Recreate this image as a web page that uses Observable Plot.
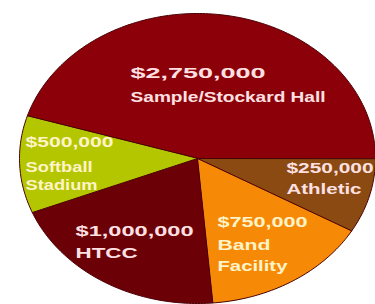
<!DOCTYPE html>
<html><head><meta charset="utf-8">
<script src="https://cdn.jsdelivr.net/npm/d3@7"></script>
<script src="https://cdn.jsdelivr.net/npm/@observablehq/plot@0.6"></script>
<style>
html,body{margin:0;padding:0;background:#fff;}
#chart svg{display:block;}
</style></head><body><div id="chart"></div>
<script>
// Slices in clockwise order, starting at the upper-left edge of the big slice
const projects = ["Sample/Stockard Hall", "Athletic", "Band Facility", "HTCC", "Softball Stadium"];
const amounts = ["$2,750,000", "$250,000", "$750,000", "$1,000,000", "$500,000"];
const shares = [45.3, 8.3, 15.3, 20.3, 10.8]; // share of the circle, %
const labelLines = [
  ["$2,750,000", "Sample/Stockard Hall"],
  ["$250,000", "Athletic"],
  ["$750,000", "Band", "Facility"],
  ["$1,000,000", "HTCC"],
  ["$500,000", "Softball", "Stadium"]
];
const colors = ["#8c0009", "#8a4a12", "#f68a06", "#6c0007", "#b4c600"];

const table = projects.map((p, i) => ({project: p, amount: amounts[i], share: shares[i]}));
const start = 287 * Math.PI / 180;
const arcs = d3.pie().sort(null).value(d => d.share).startAngle(start).endAngle(start + 2 * Math.PI)(table);

const pts = [];
arcs.forEach(a => {
  pts.push({project: a.data.project, x: 0, y: 0});
  const n = Math.max(4, Math.ceil((a.endAngle - a.startAngle) / (Math.PI / 180)));
  for (let k = 0; k <= n; k++) {
    const t = a.startAngle + (a.endAngle - a.startAngle) * k / n;
    pts.push({project: a.data.project, x: Math.sin(t), y: Math.cos(t)});
  }
});

// label layout (unit-circle data units) and rendered widths in px
const labelX = [-0.376, 0.50, 0.112, -0.685, -0.966];
const labelY = [[0.586, 0.421], [-0.069, -0.214], [-0.441, -0.600, -0.745], [-0.503, -0.655], [0.110, -0.062, -0.186]];
const labelW = [[135, 195], [87, 75], [90, 53, 70], [118, 62], [88, 67, 72]];
const labels = [];
labelLines.forEach((lines, i) => {
  lines.forEach((s, j) => labels.push({text: s, x: labelX[i], y: labelY[i][j], w: labelW[i][j], slice: i}));
});

const chart = Plot.plot({
  width: 375, height: 304,
  marginLeft: 19, marginRight: 0, marginTop: 13, marginBottom: 1,
  x: {domain: [-1, 1], axis: null},
  y: {domain: [-1, 1], axis: null},
  color: {domain: projects, range: colors},
  style: {background: "#fff"},
  marks: [
    Plot.line(pts, {x: "x", y: "y", z: "project", fill: "project", stroke: "#4a0005", strokeWidth: 1, curve: "linear-closed"}),
    Plot.text(labels.filter(d => d.slice !== 2 && d.slice !== 4), {x: "x", y: "y", text: "text", textAnchor: "start", fill: "#ffe0e2", fontSize: 14, fontWeight: "bold", fontFamily: "Liberation Sans"}),
    Plot.text(labels.filter(d => d.slice === 2 || d.slice === 4), {x: "x", y: "y", text: "text", textAnchor: "start", fill: "#fff4c8", fontSize: 14, fontWeight: "bold", fontFamily: "Liberation Sans"})
  ]
});
const byText = new Map(labels.map(d => [d.text, d.w]));
chart.querySelectorAll("text").forEach(t => {
  const w = byText.get(t.textContent);
  if (w) { t.setAttribute("textLength", w); t.setAttribute("lengthAdjust", "spacingAndGlyphs"); }
});
document.getElementById("chart").append(chart);
</script></body></html>
